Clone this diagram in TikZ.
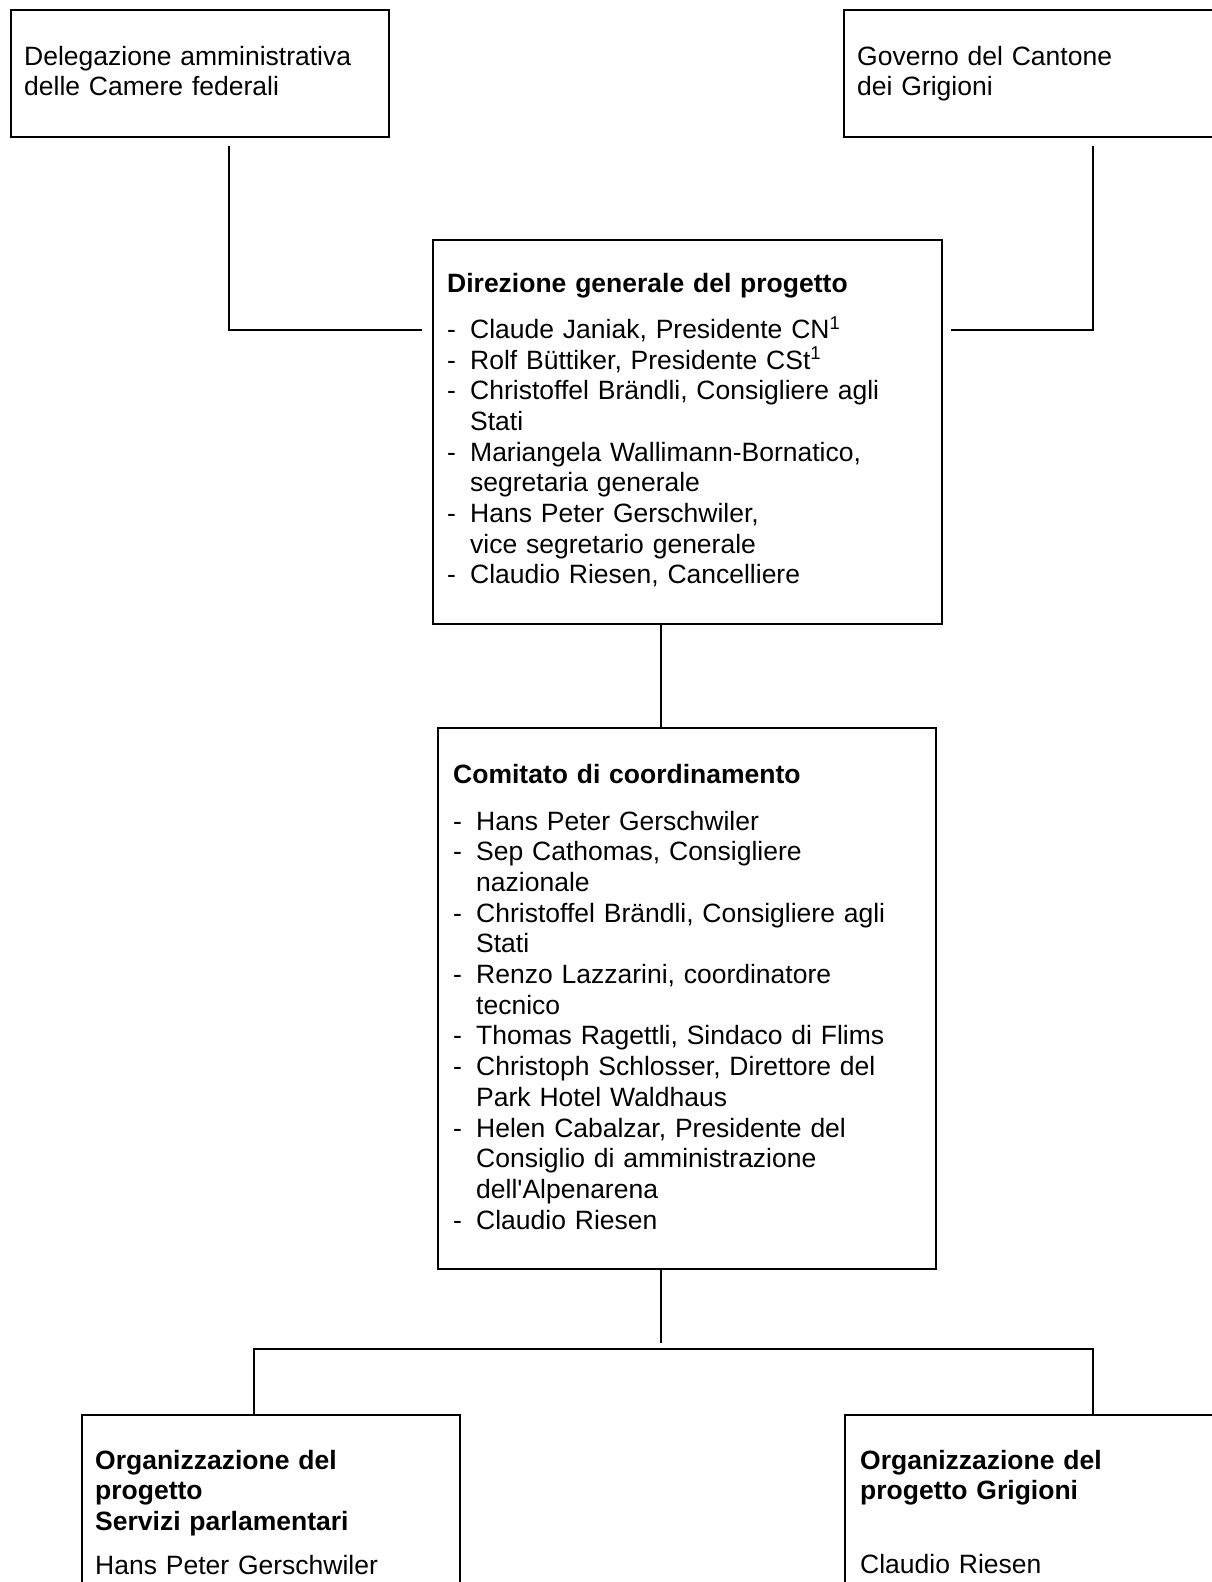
\documentclass[tikz,border=0pt]{standalone}
\usepackage{fontspec}
\setmainfont{Liberation Sans}

\newcommand{\orgdash}{\makebox[23pt][l]{-}}
\newcommand{\orgskip}{\hspace*{23pt}}

\tikzset{
  orgbox/.style={draw, line width=1.8pt, anchor=north west, inner sep=0pt},
  orgtext/.style={anchor=base west, inner sep=0pt, align=left, text width=#1,
    font=\fontsize{26.5}{30.7}\selectfont},
  link/.style={line width=1.1pt}
}

\begin{document}
\begin{tikzpicture}[x=1pt,y=-1pt]
        \useasboundingbox (0,0) rectangle (1212,1582);
        \clip (0,0) rectangle (1212,1582);

        % top row
        \node[orgbox, minimum width=378, minimum height=127] (deleg) at (10,9) {};
        \node[orgtext=360] (delegtxt) at (24,65) {Delegazione amministrativa\\delle Camere federali};
        \node[orgbox, minimum width=400, minimum height=127] (gov) at (843,9) {};
        \node[orgtext=340] (govtxt) at (857,65) {Governo del Cantone\\dei Grigioni};

        % direzione
        \node[orgbox, minimum width=509, minimum height=384] (dir) at (432,239) {};
        \node[orgtext=480] (dirtxt) at (447,292) {{\bfseries Direzione generale del progetto}\\[15.6pt]
        \orgdash Claude Janiak, Presidente CN\textsuperscript{1}\\
        \orgdash Rolf Büttiker, Presidente CSt\textsuperscript{1}\\
        \orgdash Christoffel Brändli, Consigliere agli\\
        \orgskip Stati\\
        \orgdash Mariangela Wallimann-Bornatico,\\
        \orgskip segretaria generale\\
        \orgdash Hans Peter Gerschwiler,\\
        \orgskip vice segretario generale\\
        \orgdash Claudio Riesen, Cancelliere};

        % comitato
        \node[orgbox, minimum width=498, minimum height=541] (com) at (437,727) {};
        \node[orgtext=470] (comtxt) at (453,783) {{\bfseries Comitato di coordinamento}\\[16.3pt]
        \orgdash Hans Peter Gerschwiler\\
        \orgdash Sep Cathomas, Consigliere\\
        \orgskip nazionale\\
        \orgdash Christoffel Brändli, Consigliere agli\\
        \orgskip Stati\\
        \orgdash Renzo Lazzarini, coordinatore\\
        \orgskip tecnico\\
        \orgdash Thomas Ragettli, Sindaco di Flims\\
        \orgdash Christoph Schlosser, Direttore del\\
        \orgskip Park Hotel Waldhaus\\
        \orgdash Helen Cabalzar, Presidente del\\
        \orgskip Consiglio di amministrazione\\
        \orgskip dell\textquotesingle Alpenarena\\
        \orgdash Claudio Riesen};

        % bottom row
        \node[orgbox, minimum width=378, minimum height=300] (parl) at (81,1414) {};
        \node[orgtext=350] (parltxt) at (95,1469) {{\bfseries Organizzazione del\\progetto\\Servizi parlamentari}\\[13.3pt]
        Hans Peter Gerschwiler};
        \node[orgbox, minimum width=400, minimum height=300] (grig) at (844,1414) {};
        \node[orgtext=340] (grigtxt) at (860,1469) {{\bfseries Organizzazione del\\progetto Grigioni}\\[43pt]
        Claudio Riesen};

        % connectors
        \coordinate (delegfoot) at (229,146);
        \coordinate (dirleft) at (422,330);
        \coordinate (govfoot) at (1093,146);
        \coordinate (dirright) at (951,330);
        \coordinate (comfoot) at (661,1343);
        \coordinate (bar) at (661,1349);
        \draw[link] (delegfoot) |- (dirleft);
        \draw[link] (govfoot) |- (dirright);
        \draw[link] (dir.south -| 661,0) -- (com.north -| 661,0);
        \draw[link] (com.south -| 661,0) -- (comfoot);
        \draw[link] (parl.north -| 254,0) |- (bar) -| (grig.north -| 1093,0);
\end{tikzpicture}
\end{document}
